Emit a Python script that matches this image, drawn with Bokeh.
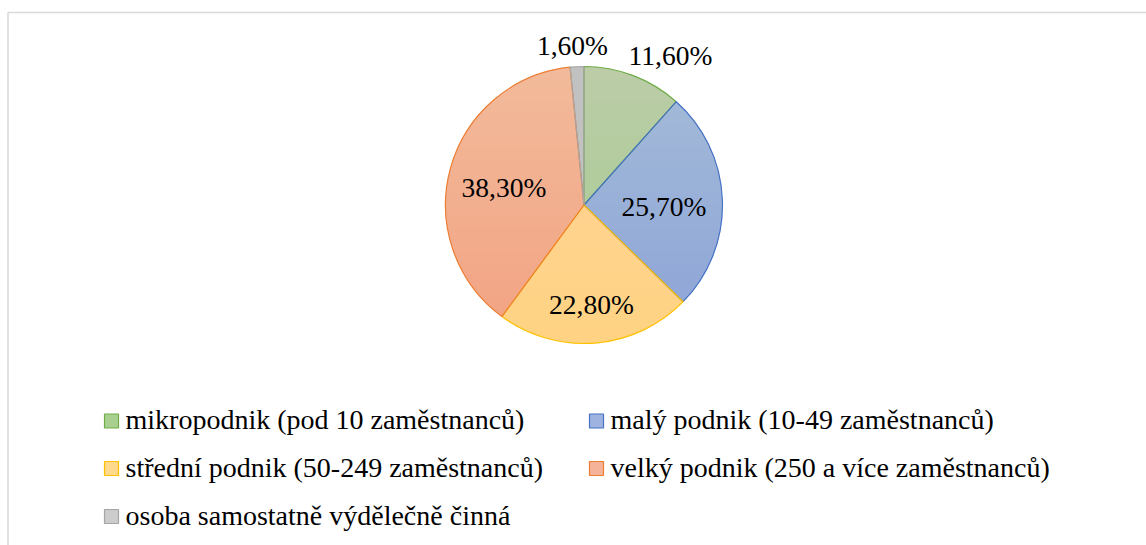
import numpy as np
from bokeh.plotting import figure
from bokeh.models import ColumnDataSource, Range1d
from bokeh.embed import file_html
from bokeh.resources import INLINE

# ---- data ----
categories = [
    "mikropodnik (pod 10 zaměstnanců)",
    "malý podnik (10-49 zaměstnanců)",
    "střední podnik (50-249 zaměstnanců)",
    "velký podnik (250 a více zaměstnanců)",
    "osoba samostatně výdělečně činná",
]
shares = [11.6, 25.7, 22.8, 38.3, 1.6]
labels = ["11,60%", "25,70%", "22,80%", "38,30%", "1,60%"]

# ---- styles ----
fills = ["#a3cc8f", "#8ca3d8", "#ffd382", "#f2a282", "#bdbdbd"]
legend_fills = ["#a9d08e", "#9fb3e0", "#ffd98c", "#f5b49a", "#cccccc"]
edges = ["#70ad47", "#4472c4", "#ffc000", "#ed7d31", "#a5a5a5"]
FONT = "serif"

W, H = 1146, 545
p = figure(width=W, height=H, output_backend="svg", toolbar_location=None,
           x_range=Range1d(0, W), y_range=Range1d(0, H),
           min_border=0, outline_line_color=None)
p.axis.visible = False
p.grid.visible = False

def py(y_page):
    return H - y_page

def px(x_page):
    return x_page

# chart border (top and left visible)
p.line([px(7.5), px(7.5)], [py(12), 0], line_color="#d9d9d9", line_width=1.5)
p.line([px(7.5), W], [py(12), py(12)], line_color="#d9d9d9", line_width=1.5)

# ---- pie ----
cx, cy, R = px(583.5), py(204.5), 138.5
vals = np.array(shares, dtype=float)
frac = vals / vals.sum()
cum = np.concatenate([[0], np.cumsum(frac)])
start = np.pi / 2 - 2 * np.pi * cum[:-1]
end = np.pi / 2 - 2 * np.pi * cum[1:]
src = ColumnDataSource(dict(start=start, end=end, fill=fills, edge=edges,
                            x=[cx] * 5, y=[cy] * 5))
p.wedge(x="x", y="y", radius=R, start_angle="start", end_angle="end",
        direction="clock", fill_color="fill", line_color=None, source=src)

# gradient overlay: stacked translucent white caps of the circle (lighter at top)
K = 24
cap_xs, cap_ys = [], []
for k in range(K):
    h = -R + 2 * R * k / K          # cap covers the circle above cy + h
    a0 = np.arcsin(np.clip(h / R, -1, 1))
    th = np.linspace(a0, np.pi - a0, 60)
    cap_xs.append(list(cx + R * np.cos(th)))
    cap_ys.append(list(cy + R * np.sin(th)))
p.patches(cap_xs, cap_ys, fill_color="white", fill_alpha=0.0145, line_color=None)

p.wedge(x="x", y="y", radius=R, start_angle="start", end_angle="end",
        direction="clock", fill_color=None, line_color="edge", line_width=1.2,
        source=src)

# data labels (offsets of the text bottom from the pie centre, page pixels)
label_offsets = [(86.5, -134.5), (80.0, 17.0), (7.5, 114.5), (-80.0, -2.5), (-11.5, -144.5)]
lsrc = ColumnDataSource(dict(
    x=[cx + dx for dx, dy in label_offsets],
    y=[cy - dy for dx, dy in label_offsets],
    t=labels, f=[FONT] * len(labels)))
p.text(x="x", y="y", text="t", text_font="f", text_font_size="27.5px",
       text_align="center", source=lsrc)

# ---- legend ----
leg_x = [px(111), px(596), px(111), px(596), px(111)]
leg_y = [py(420.5), py(420.5), py(468), py(468), py(516)]
p.rect(x=leg_x, y=leg_y, width=14, height=14, fill_color=legend_fills,
       line_color=edges, line_width=1.2)
gsrc = ColumnDataSource(dict(x=[x + 14 for x in leg_x], y=[y - 14 for y in leg_y],
                             t=categories, f=[FONT] * len(categories)))
p.text(x="x", y="y", text="t", text_font="f", text_font_size="28px",
       source=gsrc)

open("out.html", "w").write(file_html(p, INLINE))
